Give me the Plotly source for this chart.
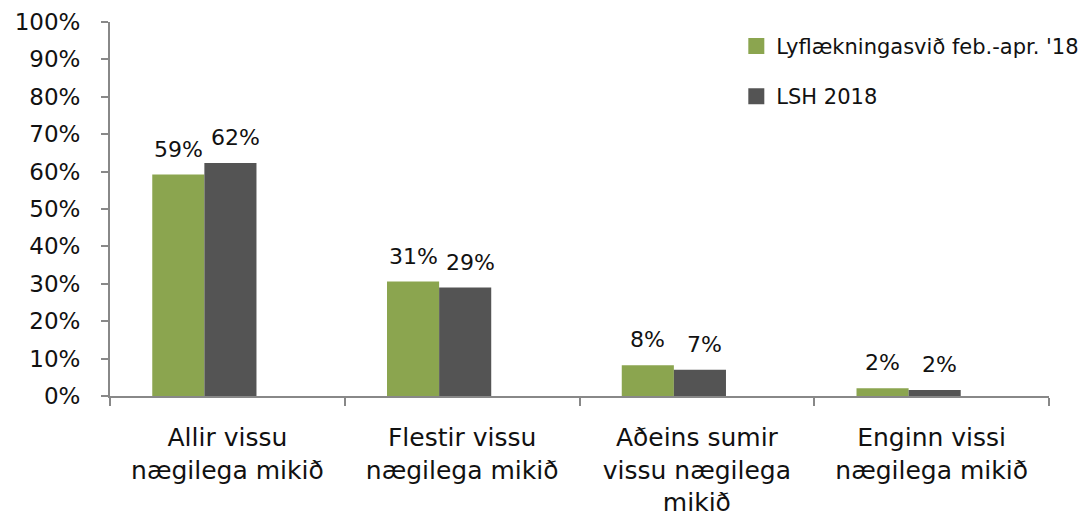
import plotly.graph_objects as go

categories = ["Allir vissu<br>nægilega mikið", "Flestir vissu<br>nægilega mikið",
              "Aðeins sumir<br>vissu nægilega<br>mikið", "Enginn vissi<br>nægilega mikið"]
series_names = ["Lyflækningasvið feb.-apr. '18", "LSH 2018"]
lyf_values = [59.2, 30.6, 8.2, 2.1]
lsh_values = [62.3, 29.0, 7.0, 1.6]
colors = ["#8BA54F", "#545454"]
y_ticks = list(range(0, 101, 10))

FONT = "DejaVu Sans, sans-serif"
CAT_PX = 234.75  # approximate pixel width of one category (for label centring)

fig = go.Figure()
for name, vals, col, off, lab_dx, grp in [
    (series_names[0], lyf_values, colors[0], -0.32, 0, "a"),
    (series_names[1], lsh_values, colors[1], -0.098, 5, "b"),
]:
    width = 0.222
    fig.add_trace(go.Bar(
        x=categories, y=vals, name=name, marker_color=col, marker_line_width=0,
        width=width, offset=off, legendgroup=grp, showlegend=False,
    ))
    for c, v in zip(categories, vals):
        fig.add_annotation(
            x=c, y=v, xref="x", yref="y", text=f"{v:.0f}%", showarrow=False,
            xshift=(off + width / 2) * CAT_PX + lab_dx, yshift=11, yanchor="bottom",
            font=dict(size=22, color="#111", family=FONT),
        )
    # legend entry with a larger square swatch
    fig.add_trace(go.Scatter(
        x=[None], y=[None], mode="markers", name=name, legendgroup=grp,
        marker=dict(symbol="square", size=18, color=col),
    ))

fig.update_layout(
    width=1089, height=528,
    margin=dict(l=102, r=48, t=14, b=140),
    paper_bgcolor="white", plot_bgcolor="white",
    barmode="overlay",
    font=dict(family=FONT, color="#111"),
    legend=dict(x=0.667, y=0.99, xanchor="left", yanchor="top",
                font=dict(size=21, family=FONT), traceorder="grouped",
                tracegroupgap=20, bgcolor="rgba(0,0,0,0)", itemwidth=30),
)
fig.update_yaxes(
    range=[0, 100], tickvals=y_ticks, ticktext=[f"{v}%" for v in y_ticks],
    showline=True, linecolor="#888", linewidth=2,
    ticks="outside", ticklen=7, tickcolor="#888", tickwidth=2,
    showgrid=False, zeroline=False, tickfont=dict(size=23, family=FONT),
    ticklabelstandoff=16, ticklabeloverflow="allow", automargin=False,
)
fig.update_xaxes(
    showline=True, linecolor="#888", linewidth=2,
    ticks="outside", ticklen=8, tickcolor="#888", tickwidth=2,
    tickson="boundaries", showgrid=False, tickfont=dict(size=25, family=FONT),
    ticklabelstandoff=18, ticklabeloverflow="allow", automargin=False,
)
fig.write_html("out.html")
